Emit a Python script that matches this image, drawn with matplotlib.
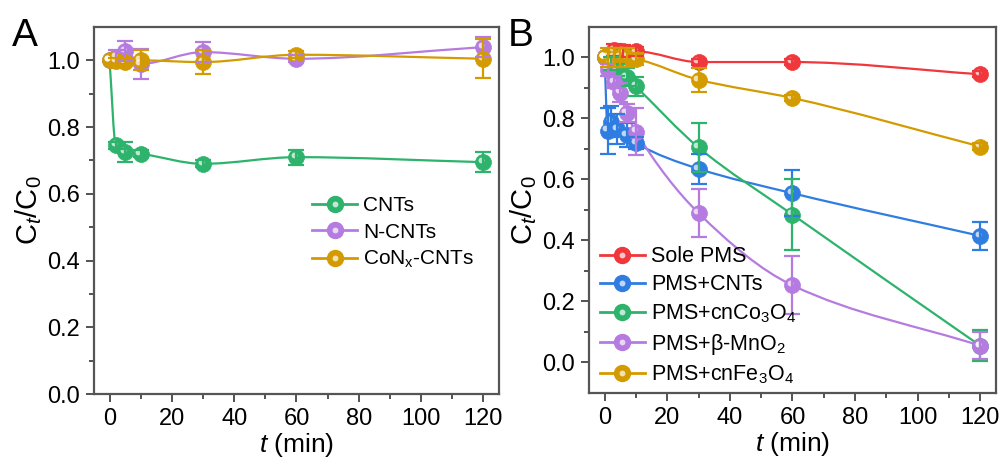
import numpy as np
import matplotlib
matplotlib.use("Agg")
import matplotlib.pyplot as plt
from matplotlib.path import Path
from matplotlib.patches import PathPatch
from matplotlib.lines import Line2D
from matplotlib.legend_handler import HandlerTuple
import matplotlib.transforms as mtransforms

plt.rcParams['font.family'] = ['Liberation Sans', 'DejaVu Sans']
plt.rcParams['mathtext.fontset'] = 'custom'
plt.rcParams['mathtext.rm'] = 'Liberation Sans'
plt.rcParams['mathtext.it'] = 'Liberation Sans:italic'

# ---------------- Panel A data ----------------
tA = [0, 2, 5, 10, 30, 60, 120]
cnts = [1.0, 0.745, 0.725, 0.72, 0.69, 0.71, 0.695]
cnts_err = [0.0, 0.01, 0.03, 0.01, 0.01, 0.022, 0.03]
ncnts = [1.0, 1.01, 1.028, 0.99, 1.025, 1.005, 1.04]
ncnts_err = [0.0, 0.02, 0.03, 0.045, 0.03, 0.01, 0.03]
conx = [1.0, 0.997, 0.995, 1.0, 0.995, 1.017, 1.005]
conx_err = [0.0, 0.01, 0.01, 0.03, 0.035, 0.01, 0.058]
labelsA = ['CNTs', 'N-CNTs', r'CoN$_\mathregular{x}$-CNTs']

# ---------------- Panel B data ----------------
t_sole = [0, 3, 6, 10, 30, 60, 120]
sole = [1.0, 1.025, 1.02, 1.02, 0.985, 0.985, 0.945]
sole_err = [0.0, 0.02, 0.02, 0.015, 0.01, 0.01, 0.01]
t_cnt = [0, 1, 2, 4, 7, 10, 30, 60, 120]
pcnt = [1.0, 0.76, 0.79, 0.765, 0.745, 0.72, 0.635, 0.555, 0.415]
pcnt_err = [0.0, 0.075, 0.05, 0.05, 0.04, 0.02, 0.05, 0.075, 0.045]
t_co = [0, 2, 4, 7, 10, 30, 60, 120]
pco = [1.0, 0.98, 0.96, 0.935, 0.905, 0.705, 0.485, 0.055]
pco_err = [0.0, 0.02, 0.02, 0.03, 0.03, 0.08, 0.115, 0.05]
t_mn = [0, 1, 3, 5, 7, 10, 30, 60, 120]
pmn = [1.0, 0.96, 0.92, 0.885, 0.817, 0.757, 0.49, 0.253, 0.055]
pmn_err = [0.0, 0.02, 0.02, 0.03, 0.03, 0.077, 0.078, 0.095, 0.045]
t_fe = [0, 1, 3, 5, 7, 10, 30, 60, 120]
pfe = [1.0, 1.0, 1.0, 1.0, 1.0, 0.995, 0.927, 0.867, 0.708]
pfe_err = [0.0, 0.03, 0.03, 0.03, 0.03, 0.02, 0.04, 0.01, 0.01]
labelsB = ['Sole PMS', 'PMS+CNTs', r'PMS+cnCo$_\mathregular{3}$O$_\mathregular{4}$',
           r'PMS+β-MnO$_\mathregular{2}$', r'PMS+cnFe$_\mathregular{3}$O$_\mathregular{4}$']

RED = '#F0373B'
BLUE = '#2F7DE1'
GREEN = '#2DB36B'
PURPLE = '#B57BE0'
GOLD = '#D49B00'


def smooth_path(x, y):
    """Monotone cubic Hermite curve through the data, expressed as Bezier path."""
    x = np.asarray(x, float)
    y = np.asarray(y, float)
    h = np.diff(x)
    d = np.diff(y) / h
    n = len(x)
    m = np.zeros(n)
    m[0] = d[0]
    m[-1] = d[-1]
    for i in range(1, n - 1):
        if d[i - 1] * d[i] <= 0:
            m[i] = 0.0
        else:
            w1 = 2 * h[i] + h[i - 1]
            w2 = h[i] + 2 * h[i - 1]
            m[i] = (w1 + w2) / (w1 / d[i - 1] + w2 / d[i])
    verts = [(x[0], y[0])]
    codes = [Path.MOVETO]
    for i in range(n - 1):
        verts += [(x[i] + h[i] / 3, y[i] + m[i] * h[i] / 3),
                  (x[i + 1] - h[i] / 3, y[i + 1] - m[i + 1] * h[i] / 3),
                  (x[i + 1], y[i + 1])]
        codes += [Path.CURVE4] * 3
    return Path(verts, codes)


MS = 11.5


def plot_series(ax, fig, x, y, err, color, label):
    patch = PathPatch(smooth_path(x, y), facecolor='none', edgecolor=color, lw=1.6, zorder=2)
    ax.add_patch(patch)
    ax.plot(x, y, linestyle='none', marker='o', ms=MS, mfc=color, mec=color, mew=0.5, zorder=3)
    off = mtransforms.ScaledTranslation(-1.6 / 72, 1.6 / 72, fig.dpi_scale_trans)
    ax.plot(x, y, linestyle='none', marker='o', ms=4.2, mfc='white', mec='none', alpha=0.7,
            transform=ax.transData + off, zorder=3.5)
    xe = [xi for xi, e in zip(x, err) if e > 0]
    ye = [yi for yi, e in zip(y, err) if e > 0]
    ee = [e for e in err if e > 0]
    ax.errorbar(xe, ye, yerr=ee, fmt='none', ecolor=color, elinewidth=1.6, capsize=5.5,
                capthick=1.6, zorder=4)
    h1 = Line2D([], [], color=color, lw=2.0, marker='o', ms=MS, mfc=color, mec=color)
    h2 = Line2D([], [], linestyle='none', marker='o', ms=4.2, mfc='white', mec='none', alpha=0.7)
    return (h1, h2), label


fig = plt.figure(figsize=(10.05, 4.61), dpi=100)
axA = fig.add_axes([0.0935, 0.1453, 0.403, 0.796])
axB = fig.add_axes([0.586, 0.1475, 0.405, 0.794])

hA = []
for x, y, e, c, l in [(tA, cnts, cnts_err, GREEN, labelsA[0]),
                      (tA, ncnts, ncnts_err, PURPLE, labelsA[1]),
                      (tA, conx, conx_err, GOLD, labelsA[2])]:
    hA.append(plot_series(axA, fig, x, y, e, c, l))

hB = []
for x, y, e, c, l in [(t_sole, sole, sole_err, RED, labelsB[0]),
                      (t_cnt, pcnt, pcnt_err, BLUE, labelsB[1]),
                      (t_co, pco, pco_err, GREEN, labelsB[2]),
                      (t_mn, pmn, pmn_err, PURPLE, labelsB[3]),
                      (t_fe, pfe, pfe_err, GOLD, labelsB[4])]:
    hB.append(plot_series(axB, fig, x, y, e, c, l))

for ax, ylim in [(axA, (0, 1.1)), (axB, (-0.1, 1.1))]:
    ax.set_xlim(-5, 125)
    ax.set_ylim(*ylim)
    ax.set_xticks([0, 20, 40, 60, 80, 100, 120])
    ax.set_xticks(np.arange(10, 125, 20), minor=True)
    ax.set_yticks([0.0, 0.2, 0.4, 0.6, 0.8, 1.0])
    ax.set_yticks(np.arange(0.1, 1.1, 0.2), minor=True)
    ax.yaxis.set_major_formatter(matplotlib.ticker.FormatStrFormatter('%.1f'))
    ax.tick_params(which='major', direction='out', length=6, width=1.3, labelsize=17,
                   color='#444444', pad=4)
    ax.tick_params(which='minor', direction='out', length=3.5, width=1.3, color='#444444')
    for s in ax.spines.values():
        s.set_linewidth(1.6)
        s.set_color('#555555')
    ax.set_xlabel(r'$\mathit{t}$ (min)', fontsize=19, labelpad=1)
    ax.set_ylabel(r'C$_\mathit{t}$/C$_\mathit{0}$', fontsize=21, labelpad=2)

fig.text(0.012, 0.9, 'A', fontsize=28)
fig.text(0.505, 0.9, 'B', fontsize=28)

legA = axA.legend([h for h, _ in hA], [l for _, l in hA],
                  handler_map={tuple: HandlerTuple(ndivide=1, pad=0)},
                  loc='upper left', bbox_to_anchor=(0.513, 0.568), frameon=False,
                  fontsize=15, handlelength=2.15, handletextpad=0.3, labelspacing=0.36,
                  borderpad=0)
legB = axB.legend([h for h, _ in hB], [l for _, l in hB],
                  handler_map={tuple: HandlerTuple(ndivide=1, pad=0)},
                  loc='upper left', bbox_to_anchor=(0.0, 0.43), frameon=False,
                  fontsize=15.5, handlelength=2.1, handletextpad=0.3, labelspacing=0.32,
                  borderpad=0)

fig.savefig('out.png', dpi=100)
